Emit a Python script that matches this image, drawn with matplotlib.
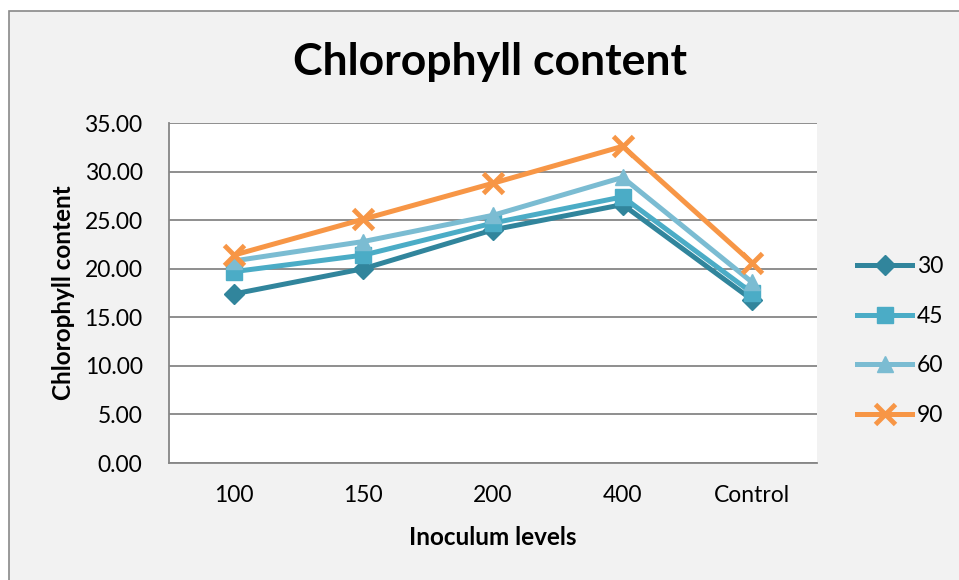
import matplotlib
matplotlib.use("Agg")
import matplotlib.pyplot as plt
from matplotlib.patches import Rectangle

categories = ["100", "150", "200", "400", "Control"]
series_names = ["30", "45", "60", "90"]
s30 = [17.4, 20.0, 24.0, 26.6, 16.8]
s45 = [19.7, 21.4, 24.7, 27.4, 17.5]
s60 = [20.8, 22.8, 25.5, 29.4, 18.6]
s90 = [21.4, 25.1, 28.8, 32.6, 20.6]
yticks = [0, 5, 10, 15, 20, 25, 30, 35]

colors = ["#31859C", "#4BACC6", "#7BBCD2", "#F79646"]
markers = ["D", "s", "^", "x"]
msizes = [10, 11, 12, 14]

plt.rcParams['font.family'] = ['Lato', 'DejaVu Sans']

fig = plt.figure(figsize=(9.59, 5.80), dpi=100)
fig.patch.set_facecolor("white")
# chart area frame
frame = Rectangle((9/959, -0.1), 1, 1.1 - 11/580, transform=fig.transFigure,
                  facecolor="#F2F2F2", edgecolor="#898989", linewidth=1.2, zorder=-5)
fig.patches.append(frame)

ax = fig.add_axes([169/959, (580-463)/580, 648/959, 340/580])
ax.set_zorder(1)
ax.set_facecolor("white")
x = list(range(len(categories)))
for vals, name, c, m, ms in zip([s30, s45, s60, s90], series_names, colors, markers, msizes):
    ax.plot(x, vals, color=c, linewidth=3.6, marker=m, markersize=ms,
            markerfacecolor=c, markeredgecolor=c,
            markeredgewidth=3.5 if m == "x" else 1, label=name, zorder=3)

ax.set_xlim(-0.5, 4.5)
ax.set_ylim(0, 35)
ax.set_yticks(yticks)
ax.set_yticklabels([f"{v:.2f}" for v in yticks])
ax.set_xticks(x)
ax.set_xticklabels(categories)
ax.grid(axis="y", color="#868686", linewidth=1.3, zorder=1)
ax.set_axisbelow(True)
for side in ["top", "right"]:
    ax.spines[side].set_visible(False)
ax.spines["left"].set_color("#868686")
ax.spines["left"].set_linewidth(1.3)
ax.spines["bottom"].set_color("#868686")
ax.spines["bottom"].set_linewidth(1.3)
ax.tick_params(axis="both", length=0, labelsize=16.5, colors="black")
ax.tick_params(axis="y", pad=19)
ax.tick_params(axis="x", pad=16)

ax.set_xlabel("Inoculum levels", fontsize=17.5, fontweight="bold", labelpad=14)
ax.set_ylabel("Chlorophyll content", fontsize=17.5, fontweight="bold", labelpad=7)
fig.text(490/959, 1 - 62/580, "Chlorophyll content", fontsize=32, fontweight="bold",
         ha="center", va="center")

leg = ax.legend(loc="center left", bbox_to_anchor=(857/959, 1 - 341/580),
                bbox_transform=fig.transFigure, frameon=False, fontsize=16.5,
                handlelength=2.4, labelspacing=1.25, handletextpad=0.2,
                borderpad=0, borderaxespad=0)

fig.savefig("out.png", dpi=100, facecolor=fig.get_facecolor())
